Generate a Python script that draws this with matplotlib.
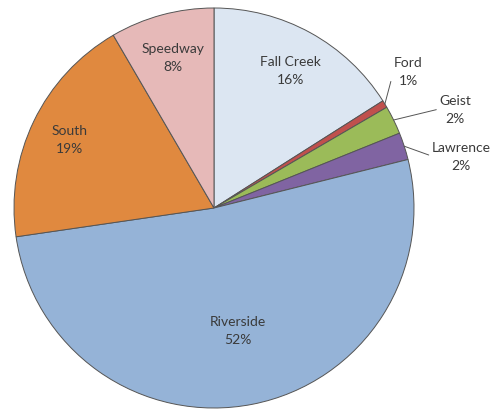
import matplotlib
matplotlib.use("Agg")

import numpy as np
import matplotlib.pyplot as plt

names = ["Fall Creek", "Ford", "Geist", "Lawrence", "Riverside", "South", "Speedway"]
shares = [16.0, 0.6, 2.3, 2.2, 51.6, 18.9, 8.4]
colors = ["#dce6f2", "#c0504d", "#9bbb59", "#8064a2", "#95b3d7", "#e0893f", "#e6b9b8"]

# inside label radial fractions; the thin slices get an outside label with a leader
inside = {"Fall Creek": 0.79, "Riverside": 0.62, "South": 0.80, "Speedway": 0.78}
outside = {"Ford": (408, 338), "Geist": (455, 300), "Lawrence": (461, 253)}

W, H = 497, 410
fig = plt.figure(figsize=(W / 100, H / 100), dpi=100)
ax = fig.add_axes([0, 0, 1, 1])

cx, cy, R = 214, 201, 200
wedges, _ = ax.pie(shares, colors=colors, startangle=90, counterclock=False,
                   center=(cx, cy), radius=R, frame=True,
                   wedgeprops=dict(edgecolor="#555555", linewidth=0.7))
ax.set_xlim(0, W)
ax.set_ylim(0, H)
ax.set_aspect("equal")
ax.axis("off")

tc = "#3a3a3a"
font = ["Lato", "DejaVu Sans"]
for w, name, v in zip(wedges, names, shares):
    mid = np.deg2rad((w.theta1 + w.theta2) / 2)
    lab = f"{name}\n{v:.0f}%"
    if name in inside:
        f = inside[name]
        ax.text(cx + f * R * np.cos(mid), cy + f * R * np.sin(mid), lab,
                ha="center", va="center", fontsize=10, color=tc,
                family=font, linespacing=1.6)
    else:
        ex, ey = cx + R * np.cos(mid), cy + R * np.sin(mid)
        ax.annotate(lab, xy=(ex, ey), xytext=outside[name], ha="center", va="center",
                    fontsize=10, color=tc, family=font, linespacing=1.6,
                    arrowprops=dict(arrowstyle="-", color="#555555", lw=0.7,
                                    shrinkA=0, shrinkB=0, relpos=(0, 0.5)))

fig.savefig("out.png", dpi=100, facecolor="white")
